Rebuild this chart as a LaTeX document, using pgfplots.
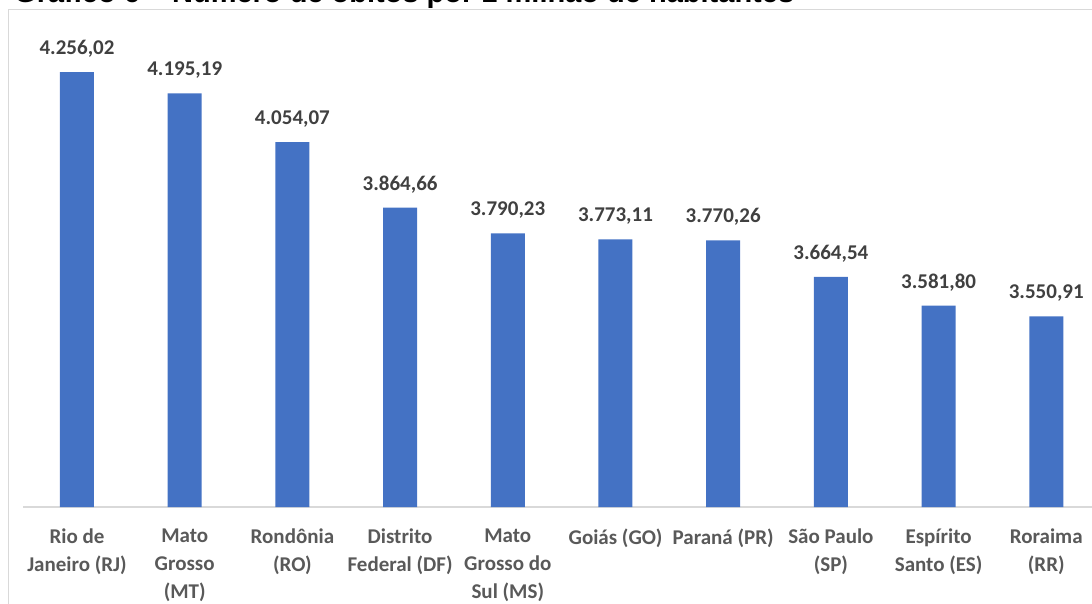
\documentclass[border=0pt]{standalone}
\usepackage{pgfplots}
\pgfplotsset{compat=1.18}
\usepackage{pgfplotstable}
\usepackage{fontspec}
\setmainfont{Carlito}
\newfontfamily\titlefont{Liberation Sans}
\definecolor{barblue}{HTML}{4472C4}
\definecolor{datagray}{HTML}{404040}
\definecolor{catgray}{HTML}{595959}
\definecolor{framegray}{HTML}{D9D9D9}
\pgfplotstableread{
x y label
0 4256.02 4.256,02
1 4195.19 4.195,19
2 4054.07 4.054,07
3 3864.66 3.864,66
4 3790.23 3.790,23
5 3773.11 3.773,11
6 3770.26 3.770,26
7 3664.54 3.664,54
8 3581.80 3.581,80
9 3550.91 3.550,91
}\datatable
\begin{document}
\begin{tikzpicture}[x=1pt,y=1pt]
\draw[framegray, line width=1pt] (8,-20) rectangle (1110,593);
\begin{axis}[
  at={(23.15pt,96pt)}, anchor=south west,
  scale only axis,
  width=1076.9pt, height=484.6pt,
  xmin=-0.5, xmax=9.5,
  ymin=3000, ymax=4400,
  axis y line=none,
  axis x line*=bottom,
  x axis line style={framegray, line width=1.3pt, -},
  xtick={0,...,9},
  ytick=\empty,
  major tick length=0pt,
  xticklabels={{Rio de\\Janeiro (RJ)},{Mato\\Grosso\\(MT)},{Rondônia\\(RO)},{Distrito\\Federal (DF)},{Mato\\Grosso do\\Sul (MS)},{Goiás (GO)},{Paraná (PR)},{São Paulo\\(SP)},{Espírito\\Santo (ES)},{Roraima\\(RR)}},
  xticklabel style={align=center, anchor=north, inner sep=0pt, yshift=-22pt,
    font=\bfseries\fontsize{21}{28}\selectfont, text=catgray},
  clip=false,
]
\addplot[ybar, bar width=34pt, fill=barblue, draw=none,
  nodes near coords, point meta=explicit symbolic,
  every node near coord/.append style={anchor=base, yshift=17.6pt, inner sep=0pt,
    font=\bfseries\fontsize{21}{25}\selectfont, text=datagray}]
  table[x=x, y=y, meta=label] {\datatable};
\end{axis}
\node[anchor=base west, inner sep=0pt, font=\titlefont\bfseries\fontsize{29}{34}\selectfont] at (14,600.5) {Gráfico 6 – Número de óbitos por 1 milhão de habitantes};
\pgfresetboundingbox
\path[use as bounding box] (0,0) rectangle (1092,603);
\end{tikzpicture}
\end{document}
